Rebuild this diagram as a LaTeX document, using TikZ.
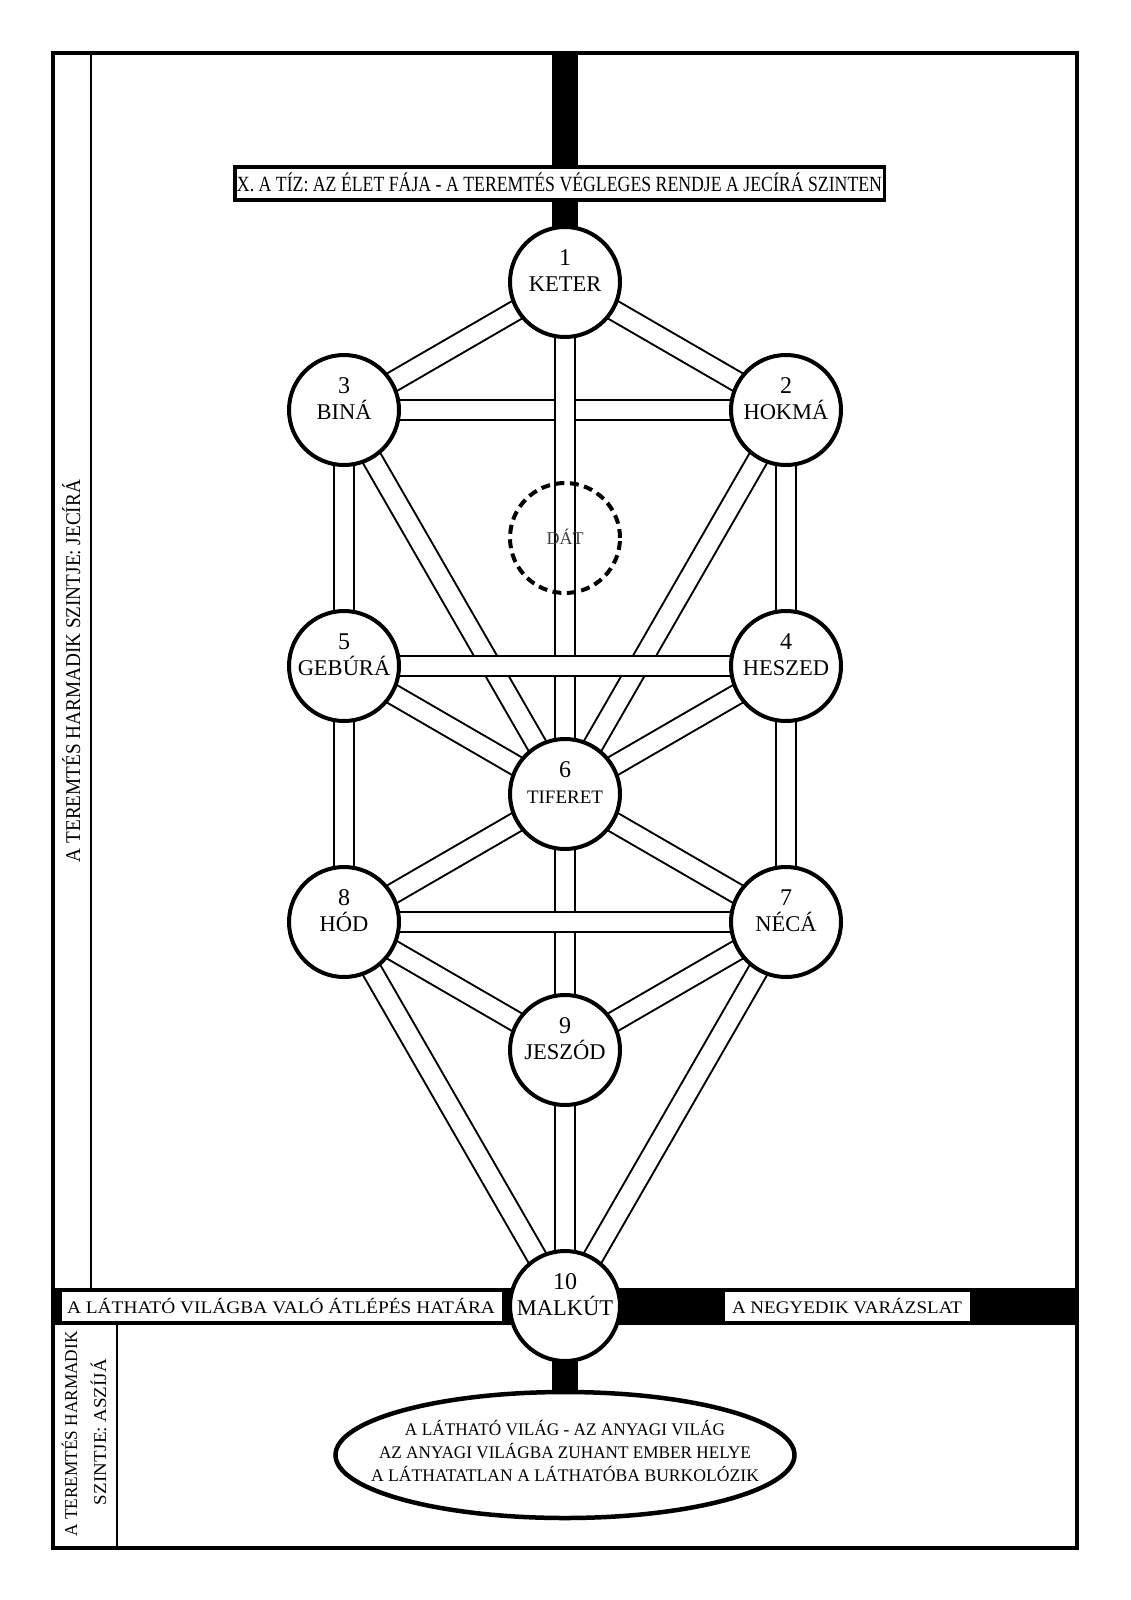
\documentclass[tikz,border=0pt]{standalone}
\usepackage{fontspec}
\setmainfont{Liberation Serif}
\usetikzlibrary{shapes.geometric}
\pgfdeclarelayer{bglayer}
\pgfdeclarelayer{pathlayer}
\pgfsetlayers{bglayer,pathlayer,main}
\newcommand\fitted[3]{\resizebox{#1pt}{\height}{\fontsize{#2}{#2}\selectfont #3}}
\tikzset{
  seph/.style={circle, draw, line width=4pt, fill=white, minimum size=110pt, inner sep=0pt},
  datcircle/.style={circle, draw, line width=4pt, dash pattern=on 9pt off 5.5pt, minimum size=110pt, inner sep=0pt},
  pathway/.style={draw=black, line width=2pt, double=white, double distance=18pt},
  numtxt/.style={anchor=base, inner sep=0pt, font=\fontsize{24}{24}\selectfont},
  nametxt/.style={anchor=base, inner sep=0pt, font=\fontsize{22.5}{22.5}\selectfont},
  smallname/.style={font=\fontsize{19}{19}\selectfont},
  basetxt/.style={anchor=base, inner sep=0pt},
  bar/.style={line width=26pt, draw=black},
  whitebox/.style={fill=white, inner sep=0pt},
  titlebox/.style={draw, line width=3.5pt, fill=white, inner sep=0pt},
  frameline/.style={line width=3.5pt},
  thinline/.style={line width=2.5pt},
}
\newcommand\sefira[6]{%
  \node[seph] (#1) at (#2,#3) {};
  \node[numtxt] (#1num) at (#2,{#3-17}) {#4};
  \node[nametxt,#6] (#1name) at (#2,{#3+9}) {#5};
}
\begin{document}
\begin{tikzpicture}[x=1pt,y=-1pt]
\useasboundingbox (0,0) rectangle (1131,1600);

% frame
\draw[frameline] (53,53) rectangle (1077,1548);
\draw[thinline] (91,53) -- (91,1288);
\draw[thinline] (117,1325) -- (117,1548);

% sefirot
\sefira{n1}{565}{282}{1}{KETER}{}
\sefira{n3}{344}{410}{3}{BINÁ}{}
\sefira{n2}{786}{410}{2}{HOKMÁ}{}
\sefira{n5}{344}{666}{5}{GEBÚRÁ}{}
\sefira{n4}{786}{666}{4}{HESZED}{}
\sefira{n6}{565}{794}{6}{TIFERET}{smallname}
\sefira{n8}{344}{922}{8}{HÓD}{}
\sefira{n7}{786}{922}{7}{NÉCÁ}{}
\sefira{n9}{565}{1050}{9}{JESZÓD}{}
\sefira{n10}{565}{1306}{10}{MALKÚT}{}

% Daat
\node[datcircle] (dat) at (565,538) {};
\node[basetxt, text=black!75, font=\fontsize{18}{18}\selectfont] (dattext) at (565,544.5) {DÁT};

% title
\node[titlebox, minimum width=649.5pt, minimum height=33pt] (title) at (559.5,183.5) {};
\node[basetxt] (titletext) at (559.5,191) {\fitted{645}{21.7}{X. A TÍZ: AZ ÉLET FÁJA - A TEREMTÉS VÉGLEGES RENDJE A JECÍRÁ SZINTEN}};

% ellipse
\node[ellipse, draw, line width=4.5pt, fill=white, minimum width=459pt, minimum height=126pt, inner sep=0pt] (ell) at (565,1455) {};
\node[basetxt] (ell1) at (565,1435) {\fitted{320}{17.7}{A LÁTHATÓ VILÁG - AZ ANYAGI VILÁG}};
\node[basetxt] (ell2) at (565,1458) {\fitted{372}{17.7}{AZ ANYAGI VILÁGBA ZUHANT EMBER HELYE}};
\node[basetxt] (ell3) at (565,1481) {\fitted{388}{17.7}{A LÁTHATATLAN A LÁTHATÓBA BURKOLÓZIK}};

% band boxes
\node[whitebox, minimum width=440pt, minimum height=29pt] (lbox) at (282,1306.5) {};
\node[basetxt] (lboxtext) at (281,1313) {\fitted{428}{17.7}{A LÁTHATÓ VILÁGBA VALÓ ÁTLÉPÉS HATÁRA}};
\node[whitebox, minimum width=245pt, minimum height=29pt] (rbox) at (847.5,1306.5) {};
\node[basetxt] (rboxtext) at (847,1313) {\fitted{230}{17.7}{A NEGYEDIK VARÁZSLAT}};

% side texts
\node[basetxt, rotate=90] (side1) at (80,671) {\fitted{382}{21}{A TEREMTÉS HARMADIK SZINTJE: JECÍRÁ}};
\node[basetxt, rotate=90] (side2a) at (77,1434) {\fitted{205}{18}{A TEREMTÉS HARMADIK}};
\node[basetxt, rotate=90] (side2b) at (106,1432) {\fitted{146}{18}{SZINTJE: ASZÍJÁ}};

% background bars and band
\coordinate (topedge) at (565,53);
\begin{pgfonlayer}{bglayer}
  \fill[white] (0,0) rectangle (1131,1600);
  \draw[bar] (topedge) -- (n1.center);
  \draw[bar] (n10.center) -- (ell.center);
  \fill (53,1288) rectangle (1077,1325);
\end{pgfonlayer}

% paths
\begin{pgfonlayer}{pathlayer}
  \foreach \a/\b in {n1/n2, n1/n3, n2/n3, n1/n6, n3/n6, n2/n6, n3/n5, n2/n4, n4/n5,
                     n5/n6, n4/n6, n5/n8, n4/n7, n6/n8, n6/n7, n6/n9, n7/n8, n8/n9,
                     n7/n9, n8/n10, n7/n10, n9/n10}
    \draw[pathway] (\a.center) -- (\b.center);
\end{pgfonlayer}
\end{tikzpicture}
\end{document}
